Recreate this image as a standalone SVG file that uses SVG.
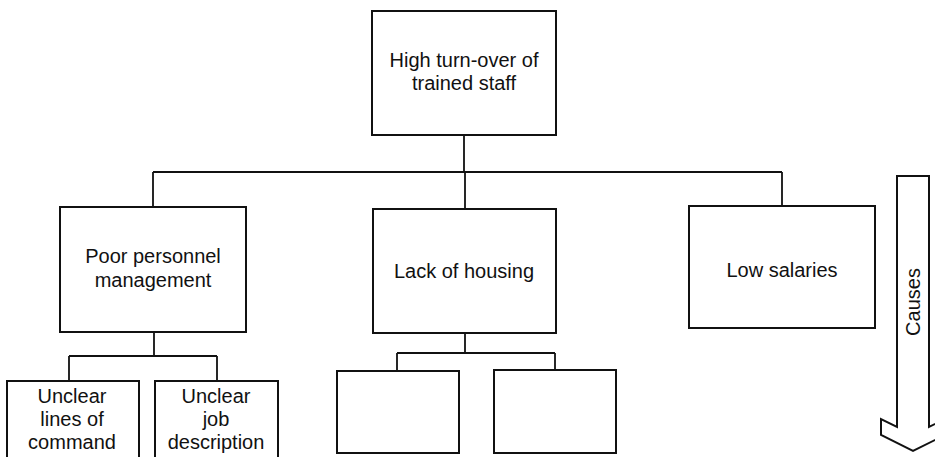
<svg xmlns="http://www.w3.org/2000/svg" width="935" height="457" viewBox="0 0 935 457">
  <style>
    .box { fill: #ffffff; stroke: #111111; stroke-width: 2; }
    .link { fill: none; stroke: #111111; stroke-width: 1.8; }
    .label { font-family: "Liberation Sans", Arial, sans-serif; font-size: 20px; fill: #111111; text-anchor: middle; }
  </style>
  <rect width="935" height="457" fill="#ffffff"/>

  <!-- connectors -->
  <g id="connectors">
    <path class="link" d="M464 135 V172 M153 172 H782 M153 172 V207 M465 172 V209 M782 172 V206"/>
    <path class="link" d="M154 332 V356 M69 356 H217 M69 356 V381 M217 356 V381"/>
    <path class="link" d="M465 333 V353 M397 353 H555 M397 353 V371 M555 353 V370"/>
  </g>

  <g id="node-turnover">
    <rect class="box" x="372" y="11" width="184" height="124"/>
    <text class="label" x="464" y="67">High turn-over of</text>
    <text class="label" x="464" y="90">trained staff</text>
  </g>

  <g id="node-personnel">
    <rect class="box" x="60" y="207" width="186" height="125"/>
    <text class="label" x="153" y="263">Poor personnel</text>
    <text class="label" x="153" y="287">management</text>
  </g>

  <g id="node-housing">
    <rect class="box" x="373" y="209" width="183" height="124"/>
    <text class="label" x="464" y="278">Lack of housing</text>
  </g>

  <g id="node-salaries">
    <rect class="box" x="689" y="206" width="186" height="122"/>
    <text class="label" x="782" y="277">Low salaries</text>
  </g>

  <g id="node-command">
    <rect class="box" x="7" y="381" width="132" height="90"/>
    <text class="label" x="72" y="403">Unclear</text>
    <text class="label" x="72" y="426">lines of</text>
    <text class="label" x="72" y="449">command</text>
  </g>

  <g id="node-job">
    <rect class="box" x="155" y="381" width="123" height="90"/>
    <text class="label" x="216" y="403">Unclear</text>
    <text class="label" x="216" y="426">job</text>
    <text class="label" x="216" y="449">description</text>
  </g>

  <g id="node-housing-a">
    <rect class="box" x="337" y="371" width="122" height="82"/>
  </g>

  <g id="node-housing-b">
    <rect class="box" x="494" y="370" width="122" height="83"/>
  </g>

  <!-- downward "Causes" arrow -->
  <g id="causes-arrow">
    <path class="box" d="M897 176 H929 V427 L945 419 V435 L913 451 L881 435 V419 L897 427 Z"/>
    <text class="label" transform="translate(920 302) rotate(-90)">Causes</text>
  </g>
</svg>
